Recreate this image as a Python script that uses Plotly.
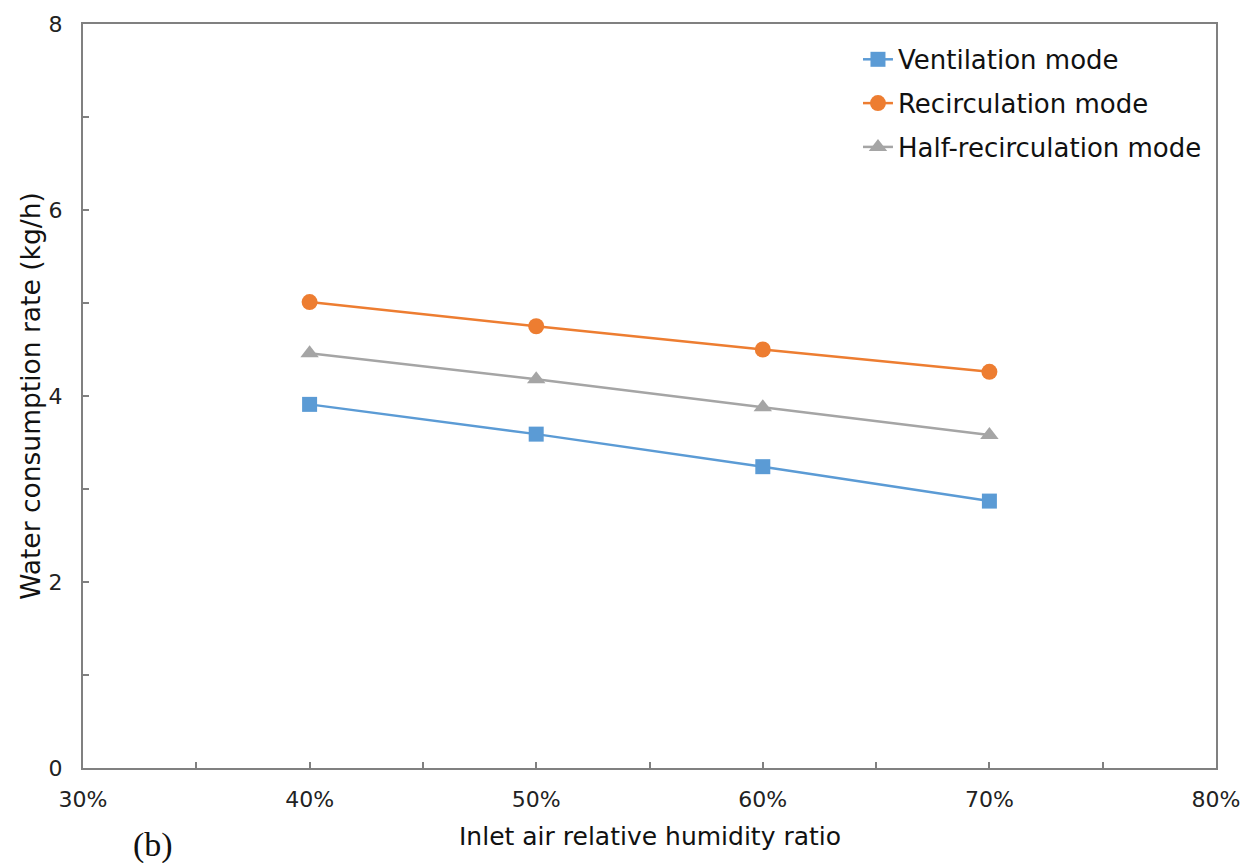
import plotly.graph_objects as go

# Inlet air relative humidity ratio (fraction)
humidity = [0.40, 0.50, 0.60, 0.70]

# Water consumption rate (kg/h) for each operating mode
ventilation = [3.91, 3.59, 3.24, 2.87]
recirculation = [5.01, 4.75, 4.50, 4.26]
half_recirculation = [4.46, 4.18, 3.88, 3.58]

series = [
    ("Ventilation mode", ventilation, "#5B9BD5", "square", 15),
    ("Recirculation mode", recirculation, "#ED7D31", "circle", 16),
    ("Half-recirculation mode", half_recirculation, "#A5A5A5", "triangle-up", 16),
]

x_ticks = [0.3, 0.4, 0.5, 0.6, 0.7, 0.8]
y_ticks = [0, 2, 4, 6, 8]

FONT = "DejaVu Sans, Verdana, sans-serif"
AXIS_GREY = "#808080"

fig = go.Figure()
for i, (name, vals, color, symbol, size) in enumerate(series):
    fig.add_trace(go.Scatter(
        x=humidity, y=vals, name=name, mode="lines+markers",
        legendgroup=f"g{i}",
        line=dict(color=color, width=2.5),
        marker=dict(symbol=symbol, size=size, color=color),
    ))

tick_font = dict(family=FONT, size=22, color="#222222")

fig.update_layout(
    width=1252, height=863,
    margin=dict(l=83, r=33, t=22, b=95),
    paper_bgcolor="white", plot_bgcolor="white",
    font=dict(family=FONT, color="#111111"),
    xaxis=dict(
        range=[0.3, 0.8], tickvals=x_ticks, tickformat=".0%",
        showgrid=False, zeroline=False,
        showline=True, linecolor=AXIS_GREY, linewidth=2, mirror=True,
        ticks="inside", ticklen=6, tickcolor=AXIS_GREY, tickwidth=1.5,
        minor=dict(tickvals=[0.35, 0.45, 0.55, 0.65, 0.75], ticks="inside",
                   ticklen=6, tickcolor=AXIS_GREY, tickwidth=1.5, showgrid=False),
        tickfont=tick_font, ticklabelstandoff=11,
    ),
    yaxis=dict(
        range=[0, 8], tickvals=y_ticks,
        showgrid=False, zeroline=False,
        showline=True, linecolor=AXIS_GREY, linewidth=2, mirror=True,
        ticks="inside", ticklen=6, tickcolor=AXIS_GREY, tickwidth=1.5,
        minor=dict(tickvals=[1, 3, 5, 7], ticks="inside",
                   ticklen=6, tickcolor=AXIS_GREY, tickwidth=1.5, showgrid=False),
        tickfont=tick_font, ticklabelstandoff=14,
        title=dict(text="Water consumption rate (kg/h)",
                   font=dict(family=FONT, size=26.5, color="#111111"),
                   standoff=0),
    ),
    legend=dict(
        x=0.684, y=0.984, xanchor="left", yanchor="top",
        bgcolor="rgba(0,0,0,0)", borderwidth=0,
        font=dict(family=FONT, size=26, color="#111111"),
        traceorder="grouped", tracegroupgap=7,
    ),
    showlegend=True,
)

# x-axis title placed below the tick labels
fig.add_annotation(
    text="Inlet air relative humidity ratio", xref="paper", yref="paper",
    x=0.5, y=-0.0925, xanchor="center", yanchor="middle", showarrow=False,
    font=dict(family=FONT, size=25, color="#111111"),
)

fig.add_annotation(
    text="(b)", xref="paper", yref="paper", x=0.0616, y=-0.103,
    xanchor="center", yanchor="middle", showarrow=False,
    font=dict(family="Liberation Serif, Times New Roman, serif", size=34, color="#111111"),
)

fig.write_html("out.html")
